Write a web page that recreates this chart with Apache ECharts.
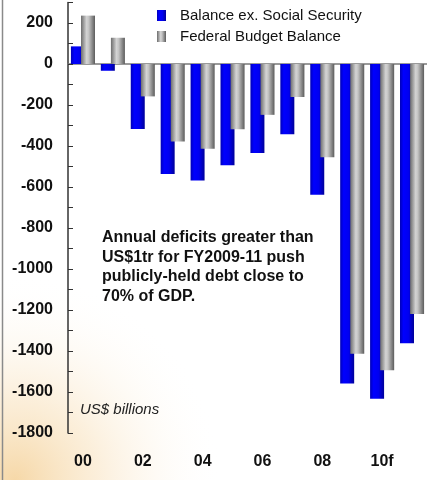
<!DOCTYPE html>
<html>
<head>
<meta charset="utf-8">
<script src="https://cdn.jsdelivr.net/npm/echarts@6/dist/echarts.min.js"></script>
<style>
html,body{margin:0;padding:0;background:#fff;}
#c{width:427px;height:480px;}
</style>
</head>
<body>
<div id="c"></div>
<script>
const categories = ['00','01','02','03','04','05','06','07','08','09','10f','11f'];
const balanceExSS = [86, -33, -317, -536, -568, -494, -434, -343, -638, -1558, -1633, -1362];
const federalBalance = [236, 128, -158, -378, -413, -318, -248, -161, -455, -1413, -1494, -1220];
const seriesNames = ['Balance ex. Social Security', 'Federal Budget Balance'];
const noteLines = ['Annual deficits greater than', 'US$1tr for FY2009-11 push', 'publicly-held debt close to', '70% of GDP.'];
const unitLabel = 'US$ billions';

const chart = echarts.init(document.getElementById('c'), null, {renderer: 'canvas'});
const FONT = '"Liberation Sans", Arial, sans-serif';

const blueGrad = new echarts.graphic.LinearGradient(0, 0, 1, 0, [
  {offset: 0, color: '#0000b8'},
  {offset: 0.25, color: '#0000ff'},
  {offset: 0.6, color: '#0000f0'},
  {offset: 1, color: '#00009a'}
]);
const grayGrad = new echarts.graphic.LinearGradient(0, 0, 1, 0, [
  {offset: 0, color: '#6c6c6c'},
  {offset: 0.4, color: '#d4d4d4'},
  {offset: 0.55, color: '#c4c4c4'},
  {offset: 1, color: '#5c5c5c'}
]);

chart.setOption({
  animation: false,
  backgroundColor: '#ffffff',
  graphic: [
    {
      type: 'rect', z: -10, silent: true,
      shape: {x: 0, y: 250, width: 300, height: 230},
      style: {
        fill: new echarts.graphic.RadialGradient(0.05, 1, 0.9, [
          {offset: 0, color: 'rgba(240,190,110,0.6)'},
          {offset: 0.4, color: 'rgba(246,215,165,0.4)'},
          {offset: 1, color: 'rgba(255,255,255,0)'}
        ])
      }
    },
    {
      type: 'line', z: 5, silent: true,
      shape: {x1: 2.5, y1: 0, x2: 2.5, y2: 480},
      style: {stroke: '#8a8a8a', lineWidth: 1.5}
    },
    {
      type: 'text', left: 102, top: 228, z: 10,
      style: {
        text: noteLines.join('\n'),
        font: 'bold 16px ' + FONT,
        fill: '#111',
        lineHeight: 19.5
      }
    },
    {
      type: 'text', left: 80, top: 402, z: 10,
      style: {
        text: unitLabel,
        font: 'italic 15px ' + FONT,
        fill: '#222'
      }
    }
  ],
  legend: {
    orient: 'vertical',
    left: 157,
    top: 8,
    padding: 0,
    itemWidth: 9,
    itemHeight: 11,
    itemGap: 6,
    icon: 'rect',
    textStyle: {fontFamily: FONT, fontSize: 15, color: '#111', padding: [0, 0, 0, 9]},
    data: seriesNames
  },
  grid: {left: 68, right: -1, top: 2.5, bottom: 47, containLabel: false},
  xAxis: {
    type: 'category',
    data: categories,
    axisLine: {lineStyle: {color: '#7a7a7a', width: 1.5}},
    axisTick: {inside: true, length: 5, lineStyle: {color: '#222'}, alignWithLabel: false, interval: 0},
    axisLabel: {interval: 1, margin: 21, fontFamily: FONT, fontSize: 16, fontWeight: 'bold', color: '#111'},
    splitLine: {show: false}
  },
  yAxis: {
    type: 'value',
    min: -1800,
    max: 300,
    interval: 100,
    axisLine: {show: true, lineStyle: {color: '#333', width: 1.5}},
    axisTick: {show: true, inside: true, length: 5, lineStyle: {color: '#333'}},
    axisLabel: {
      margin: 15,
      fontFamily: FONT, fontSize: 16, fontWeight: 'bold', color: '#111',
      formatter: v => (v % 200 === 0 ? String(v) : '')
    },
    splitLine: {show: false}
  },
  series: [
    {
      name: seriesNames[0], type: 'bar', data: balanceExSS,
      barWidth: 14, barGap: '-28%',
      itemStyle: {color: blueGrad}
    },
    {
      name: seriesNames[1], type: 'bar', data: federalBalance,
      barWidth: 14,
      itemStyle: {color: grayGrad}
    }
  ]
});
</script>
</body>
</html>
